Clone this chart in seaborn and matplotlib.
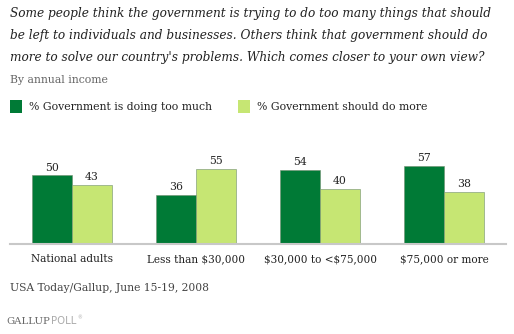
import matplotlib
matplotlib.use("Agg")
import matplotlib.pyplot as plt
import seaborn as sns
import pandas as pd
from matplotlib.patches import Rectangle

categories = ["National adults", "Less than \\$30,000", "\\$30,000 to <\\$75,000", "\\$75,000 or more"]
series_names = ["% Government is doing too much", "% Government should do more"]
too_much = [50, 36, 54, 57]
do_more = [43, 55, 40, 38]
colors = ["#007A36", "#C6E673"]

title_lines = [
    "Some people think the government is trying to do too many things that should",
    "be left to individuals and businesses. Others think that government should do",
    "more to solve our country's problems. Which comes closer to your own view?",
]
subtitle = "By annual income"
source = "USA Today/Gallup, June 15-19, 2008"

df = pd.DataFrame({
    "category": categories * 2,
    "series": [series_names[0]] * 4 + [series_names[1]] * 4,
    "value": too_much + do_more,
})

sns.set_theme(style="white")
plt.rcParams["font.family"] = ["DejaVu Serif"]

W, H = 514, 334
fig = plt.figure(figsize=(W / 100, H / 100), dpi=100)
ax = fig.add_axes([10 / W, (H - 244) / H, 496 / W, 96 / H])

sns.barplot(data=df, x="category", y="value", hue="series", order=categories,
            hue_order=series_names, palette=colors, width=0.645, gap=0, saturation=1,
            edgecolor="#6f8f6f", linewidth=0.4, ax=ax, legend=False)

ax.set_xlim(-0.5, 3.5)
ax.set_ylim(0, 70)
for s in ["top", "right", "left"]:
    ax.spines[s].set_visible(False)
ax.spines["bottom"].set_color("#c8c8c8")
ax.spines["bottom"].set_linewidth(1.5)
ax.set_yticks([])
ax.set_xlabel("")
ax.set_ylabel("")
ax.tick_params(axis="x", length=0, pad=7, labelsize=7.6, labelcolor="#222222")

for cont in ax.containers:
    ax.bar_label(cont, fmt="%d", padding=2, fontsize=7.8, color="#222222", clip_on=False)

# Title
for i, line in enumerate(title_lines):
    fig.text(10 / W, 1 - (14 + 22 * i) / H, line, fontsize=8.75, style="italic",
             color="#222222", va="center", ha="left")
fig.text(10 / W, 1 - 80 / H, subtitle, fontsize=7.8, color="#666666", va="center", ha="left")

# Legend
for x0, xt, c, name in [(10, 29, colors[0], series_names[0]), (238, 257, colors[1], series_names[1])]:
    fig.patches.append(Rectangle((x0 / W, 1 - 113 / H), 12 / W, 13 / H, transform=fig.transFigure,
                                 facecolor=c, edgecolor="none"))
    fig.text(xt / W, 1 - 107 / H, name, fontsize=7.8, color="#222222", va="center", ha="left")

fig.text(10 / W, 1 - 288 / H, source, fontsize=7.75, color="#444444", va="center", ha="left")
fig.text(6 / W, 1 - 321 / H, "GALLUP", fontsize=7.3, color="#666666", va="center", ha="left")
fig.text(51 / W, 1 - 321 / H, "POLL", fontsize=7.3, color="#aaaaaa", va="center", ha="left",
         family=["DejaVu Sans"])
fig.text(77 / W, 1 - 318 / H, "\u00ae", fontsize=3.5, color="#aaaaaa", va="center", ha="left",
         family=["DejaVu Sans"])

fig.savefig("out.png", dpi=100, facecolor="white")
